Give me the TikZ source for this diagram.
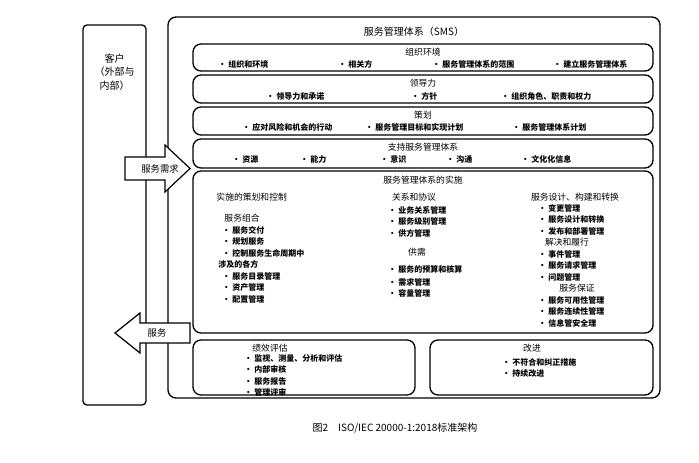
\documentclass[tikz,border=0pt]{standalone}
\usepackage{fontspec}
\setmainfont{Noto Sans CJK SC}
\usetikzlibrary{arrows.meta,calc}
\tikzset{
  panel/.style={draw,rounded corners=6pt,line width=1pt},
  head/.style={font=\fontsize{6.6}{8}\selectfont,inner sep=0pt},
  itm/.style={font=\fontsize{6}{7.6}\selectfont\bfseries,inner sep=0pt,anchor=west},
  lst/.style={font=\fontsize{6}{8.6}\selectfont\bfseries,inner sep=0pt,anchor=north west,align=left},
}
\begin{document}
\begin{tikzpicture}[x=0.75pt,y=-0.75pt,line width=.7pt]
\useasboundingbox (0,0) rectangle (699,463);
% customer and SMS frames
\draw[rounded corners=3pt,line width=1pt] (83,25) rectangle (146,405);
\node[head,align=center,font=\fontsize{7.5}{10}\selectfont] (cust) at (114.5,72) {客户\\（外部与\\内部）};
\draw[panel] (168,17) rectangle (660,398);
\node[head,font=\fontsize{7.5}{9}\selectfont] (sms) at (414,32) {服务管理体系（SMS）};
% rows
\draw[panel] (193,44) rectangle (653,71);
\node[head] (ctx) at (423,52) {组织环境};
\foreach \x/\t in {218/组织和环境,338/相关方,432/服务管理体系的范围,553/建立服务管理体系}
  \node[itm] at (\x,64) {· \t};
\draw[panel] (193,75) rectangle (653,103);
\node[head] (lead) at (423,83) {领导力};
\foreach \x/\t in {266/领导力和承诺,411/方针,501/组织角色、职责和权力}
  \node[itm] at (\x,96) {· \t};
\draw[panel] (193,107) rectangle (653,135);
\node[head] (plan) at (423,115) {策划};
\foreach \x/\t in {242/应对风险和机会的行动,365/服务管理目标和实现计划,512/服务管理体系计划}
  \node[itm] at (\x,127) {· \t};
\draw[panel] (193,139) rectangle (653,168);
\node[head] (supp) at (423,147) {支持服务管理体系};
\foreach \x/\t in {232/资源,300/能力,380/意识,446/沟通,521/文化化信息}
  \node[itm] at (\x,159) {· \t};
% implementation
\draw[panel] (193,171) rectangle (653,333);
\node[head] (impl) at (423,180) {服务管理体系的实施};
\node[head,anchor=west] (pc) at (216,197) {实施的策划和控制};
\node[head,anchor=west] (port) at (224,218) {服务组合};
\node[lst] at (222,226) {· 服务交付\\· 规划服务\\· 控制服务生命周期中\\\hspace*{-3pt}涉及的各方\\· 服务目录管理\\· 资产管理\\· 配置管理};
\node[head] (rel) at (414,197) {关系和协议};
\node[lst] at (388,206) {· 业务关系管理\\· 服务级别管理\\· 供方管理};
\node[head] (sd) at (417,252) {供需};
\node[lst] at (388,265) {· 服务的预算和核算\\[1pt]· 需求管理\\· 容量管理};
\node[head] (dbt) at (575,197) {服务设计、构建和转换};
\node[lst] at (538,204) {· 变更管理\\· 服务设计和转换\\· 发布和部署管理};
\node[head] (res) at (567,242) {解决和履行};
\node[lst] at (538,250) {· 事件管理\\· 服务请求管理\\· 问题管理};
\node[head] (ass) at (577,288) {服务保证};
\node[lst] at (538,296) {· 服务可用性管理\\· 服务连续性管理\\· 信息管安全理};
% evaluation and improvement
\draw[panel] (193,340) rectangle (415,395);
\node[head] (perf) at (270,348) {绩效评估};
\node[lst] at (244,354) {· 监视、测量、分析和评估\\· 内部审核\\· 服务报告\\· 管理评审};
\draw[panel] (430,340) rectangle (653,395);
\node[head] (imp) at (532,348) {改进};
\node[lst] at (502,358) {· 不符合和纠正措施\\· 持续改进};
% arrows
\draw[fill=white,line width=.9pt] (125,157) -- (165,157) -- (165,145) -- (190,168.5) -- (165,192) -- (165,180) -- (125,180) -- cycle;
\node[head,font=\fontsize{7}{8}\selectfont] (dem) at (160,168.5) {服务需求};
\draw[fill=white,line width=.9pt] (190,323) -- (140,323) -- (140,313) -- (115,333) -- (140,353) -- (140,343) -- (190,343) -- cycle;
\node[head,font=\fontsize{7}{8}\selectfont] (svc) at (157,333) {服务};
% caption
\node[head,font=\fontsize{7.5}{9}\selectfont] (cap) at (395,428) {图2\quad ISO/IEC 20000-1:2018标准架构};
\end{tikzpicture}
\end{document}
